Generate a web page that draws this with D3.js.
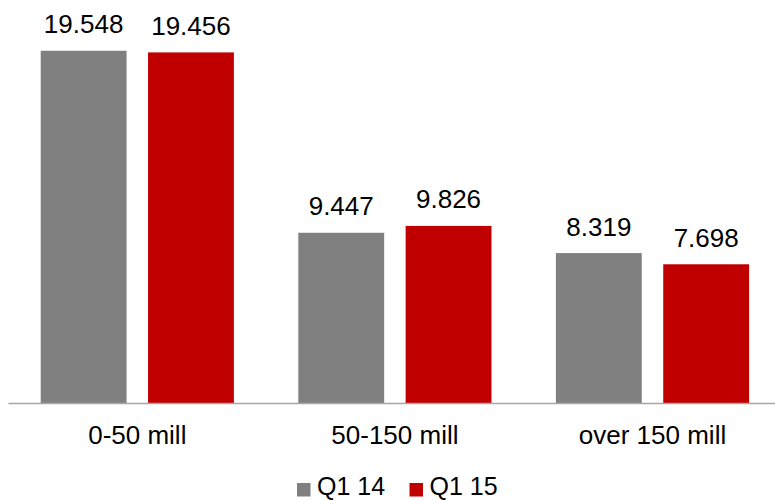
<!DOCTYPE html>
<html>
<head>
<meta charset="utf-8">
<script src="https://cdn.jsdelivr.net/npm/d3@7"></script>
<style>
  html, body { margin: 0; padding: 0; background: #fff; }
  svg { display: block; font-family: "Liberation Sans", Arial, sans-serif; }
</style>
</head>
<body>
<svg id="chart" width="775" height="500"></svg>
<script>
const categories = ["0-50 mill", "50-150 mill", "over 150 mill"];
const seriesNames = ["Q1 14", "Q1 15"];
const q1_14 = [19.548, 9.447, 8.319];
const q1_15 = [19.456, 9.826, 7.698];
const labels14 = ["19.548", "9.447", "8.319"];
const labels15 = ["19.456", "9.826", "7.698"];
const colors = ["#808080", "#C00000"];

const seriesValues = [q1_14, q1_15];
const seriesLabels = [labels14, labels15];

const svg = d3.select("#chart");
const baseY = 403;

const x0 = d3.scaleBand().domain(categories).range([8.5, 781.3]).paddingInner(0).paddingOuter(0);
const x1 = d3.scaleBand().domain(seriesNames).range([0, x0.bandwidth()]).paddingInner(0.2).paddingOuter(0.3);
const y = d3.scaleLinear().domain([0, 22]).range([baseY, baseY - 22 * 18.02]);

const data = [];
categories.forEach((c, i) => {
  seriesNames.forEach((s, j) => {
    data.push({ cat: c, series: s, value: seriesValues[j][i], label: seriesLabels[j][i], color: colors[j] });
  });
});

svg.append("g").selectAll("rect").data(data).join("rect")
  .attr("x", d => x0(d.cat) + x1(d.series))
  .attr("width", x1.bandwidth())
  .attr("y", d => y(d.value))
  .attr("height", d => y(0) - y(d.value))
  .attr("fill", d => d.color);

svg.append("g").selectAll("text").data(data).join("text")
  .attr("x", d => x0(d.cat) + x1(d.series) + x1.bandwidth() / 2)
  .attr("y", d => y(d.value) - 17.5)
  .attr("text-anchor", "middle")
  .attr("font-size", "26px")
  .attr("fill", "#000")
  .text(d => d.label);

// axis line
svg.append("line")
  .attr("x1", x0.range()[0]).attr("x2", x0.range()[1])
  .attr("y1", baseY + 0.5).attr("y2", baseY + 0.5)
  .attr("stroke", "#A6A6A6").attr("stroke-width", 1.5);

// category labels
svg.append("g").selectAll("text").data(categories).join("text")
  .attr("x", d => x0(d) + x0.bandwidth() / 2)
  .attr("y", 444)
  .attr("text-anchor", "middle")
  .attr("font-size", "26px")
  .attr("fill", "#000")
  .text(d => d);

// legend
const legendItems = [
  { name: seriesNames[0], color: colors[0], x: 297 },
  { name: seriesNames[1], color: colors[1], x: 409.5 }
];
const lg = svg.append("g");
legendItems.forEach(it => {
  lg.append("rect").attr("x", it.x).attr("y", 483).attr("width", 13.5).attr("height", 13.5).attr("fill", it.color);
  lg.append("text").attr("x", it.x + 20).attr("y", 494.5).attr("font-size", "25px").attr("fill", "#000").text(it.name);
});
</script>
</body>
</html>
